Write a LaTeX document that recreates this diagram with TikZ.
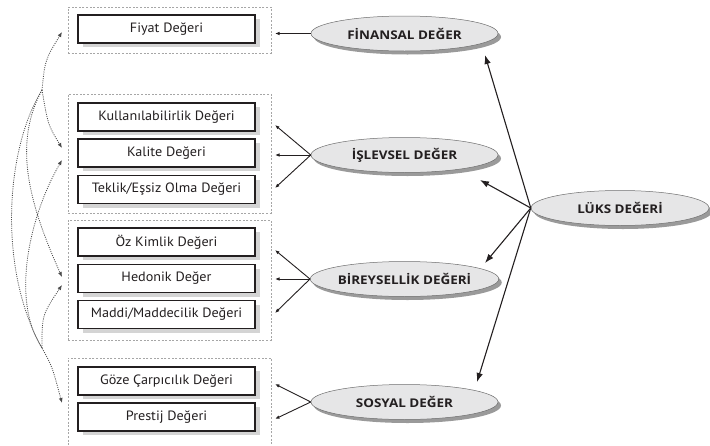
\documentclass[tikz,border=0pt]{standalone}
\usepackage{fontspec}
\setmainfont{PT Sans}
\newfontfamily\boxfont[FakeStretch=1.05]{PT Sans}
\newfontfamily\ellfont[FakeStretch=1.12]{Open Sans}
\usetikzlibrary{arrows.meta,shapes.geometric,shadows}
\definecolor{ink}{HTML}{231F20}
\definecolor{boxshade}{HTML}{D4D4D4}
\definecolor{ellfill}{HTML}{E6E6E7}
\definecolor{ellline}{HTML}{6E6E6E}
\definecolor{ellshade}{HTML}{9A9A9A}
\definecolor{framegray}{HTML}{A6A6A6}
\definecolor{curvegray}{HTML}{4A4A4A}

\begin{document}
\begin{tikzpicture}[x=1pt,y=-1pt,
  groupframe/.style={draw=framegray, line width=0.6pt, dash pattern=on 2pt off 1.6pt, inner sep=0pt},
  valuebox/.style={draw=ink, line width=1.3pt, fill=white, minimum width=177pt, minimum height=28pt,
    inner sep=0pt, font=\boxfont\fontsize{13.5}{15}\selectfont, text=ink,
    general shadow={fill=boxshade, shadow xshift=5pt, shadow yshift=-4pt}},
  valueell/.style={ellipse, draw=ellline, line width=0.5pt, fill=ellfill, minimum width=187pt,
    minimum height=35pt, inner sep=0pt, font=\ellfont\bfseries\fontsize{12}{14}\selectfont, text=ink,
    general shadow={fill=ellshade, shadow xshift=3pt, shadow yshift=-3.5pt}},
  smallarrow/.style={draw=ink, line width=0.9pt, -{Latex[length=4.5pt,width=3.5pt]}},
  bigarrow/.style={draw=ink, line width=1.1pt, -{Latex[length=9pt,width=6.5pt]}},
  linkcurve/.style={draw=curvegray, line width=0.8pt, dash pattern=on 1pt off 1.2pt,
    -{Latex[length=5pt,width=4pt]}}
]
\clip (0,0) rectangle (710,445);
\useasboundingbox (0,0) rectangle (710,445);

% dotted group frames
\node[groupframe, minimum width=203pt, minimum height=46pt]  (g1) at (169.5,30) {};
\node[groupframe, minimum width=203pt, minimum height=119pt] (g2) at (169.5,153.5) {};
\node[groupframe, minimum width=203pt, minimum height=120pt] (g3) at (169.5,280) {};
\node[groupframe, minimum width=203pt, minimum height=92pt]  (g4) at (169.5,404) {};

% value boxes
\node[valuebox] (fiyat) at (166.5,29)  {Fiyat Değeri};
\node[valuebox] (kul)   at (166.5,117) {Kullanılabilirlik Değeri};
\node[valuebox] (kal)   at (166.5,153) {Kalite Değeri};
\node[valuebox] (tek)   at (166.5,189.5) {Teklik/Eşsiz Olma Değeri};
\node[valuebox] (oz)    at (166.5,242) {Öz Kimlik Değeri};
\node[valuebox] (hed)   at (166.5,278.5) {Hedonik Değer};
\node[valuebox] (mad)   at (166.5,314.5) {Maddi/Maddecilik Değeri};
\node[valuebox] (goz)   at (166.5,381) {Göze Çarpıcılık Değeri};
\node[valuebox] (pre)   at (166.5,417) {Prestij Değeri};

% value dimensions
\node[valueell] (fin) at (404.5,33.5) {FİNANSAL DEĞER};
\node[valueell] (isl) at (404.5,155)  {İŞLEVSEL DEĞER};
\node[valueell] (bir) at (404.5,279)  {BİREYSELLİK DEĞERİ};
\node[valueell] (sos) at (404.5,402)  {SOSYAL DEĞER};
\node[valueell, minimum width=178pt] (luks) at (620,208) {LÜKS DEĞERİ};

% arrow ends beside the frames
\coordinate (t-fiyat) at (275,33.5);
\coordinate (t-kul) at (275,125);
\coordinate (t-kal) at (275,155);
\coordinate (t-tek) at (275,188);
\coordinate (t-oz)  at (275,250);
\coordinate (t-hed) at (275,279);
\coordinate (t-mad) at (275,313);
\coordinate (t-goz) at (275,384);
\coordinate (t-pre) at (275,419);

\draw[smallarrow] (fin.west) -- (t-fiyat);
\draw[smallarrow] (isl.west) -- (t-kul);
\draw[smallarrow] (isl.west) -- (t-kal);
\draw[smallarrow] (isl.west) -- (t-tek);
\draw[smallarrow] (bir.west) -- (t-oz);
\draw[smallarrow] (bir.west) -- (t-hed);
\draw[smallarrow] (bir.west) -- (t-mad);
\draw[smallarrow] (sos.west) -- (t-goz);
\draw[smallarrow] (sos.west) -- (t-pre);

% from the luxury value to its four dimensions
\coordinate (l-fin) at (485,55);
\coordinate (l-isl) at (480,180);
\coordinate (l-bir) at (485,263);
\coordinate (l-sos) at (477,382);
\draw[bigarrow] (luks.west) -- (l-fin);
\draw[bigarrow] (luks.west) -- (l-isl);
\draw[bigarrow] (luks.west) -- (l-bir);
\draw[bigarrow] (luks.west) -- (l-sos);

% dotted links between the sub-values
\coordinate (h1) at (42,90);
\coordinate (h3) at (42,348);
\coordinate (d-fiyat) at (62,32);
\coordinate (d-kal1) at (62,148);
\coordinate (d-kal2) at (62,160);
\coordinate (d-hed1) at (62,277);
\coordinate (d-hed2) at (62,285);
\coordinate (d-pre)  at (62,403);

\draw[linkcurve] (h1) .. controls (45,60) .. (d-fiyat);
\draw[linkcurve] (h1) .. controls (48,125) .. (d-kal1);
\draw[linkcurve] (h1) .. controls (5,150) and (-2,270) .. (h3) .. controls (52,366) .. (d-pre);
\draw[linkcurve] (h1) .. controls (15,140) and (25,195) .. (d-hed1);
\draw[linkcurve] (h3) .. controls (10,300) and (30,215) .. (d-kal2);
\draw[linkcurve] (h3) .. controls (42,315) .. (d-hed2);
\end{tikzpicture}
\end{document}
